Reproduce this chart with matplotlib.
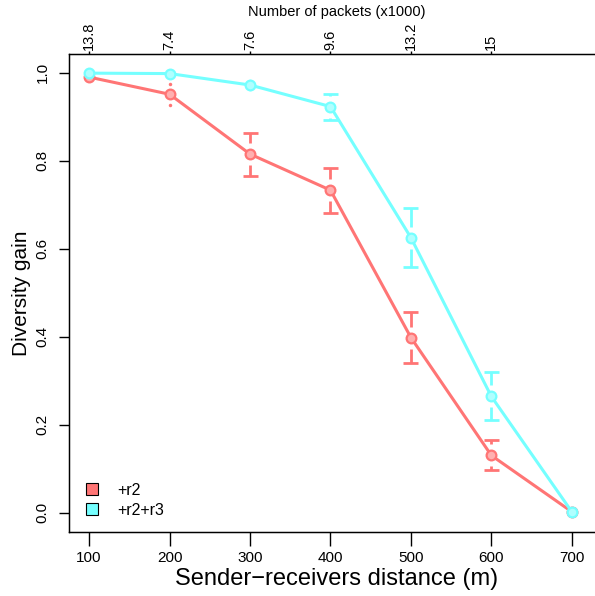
import numpy as np
import matplotlib
matplotlib.use("Agg")
import matplotlib.pyplot as plt

plt.rcParams['font.family'] = ['Liberation Sans', 'DejaVu Sans']

# data
distance = [100, 200, 300, 400, 500, 600, 700]
packets = ["13.8", "7.4", "7.6", "9.6", "13.2", "15"]

r2_mean = [0.990, 0.951, 0.815, 0.733, 0.398, 0.130, 0.002]
r2_low = [0.988, 0.927, 0.765, 0.681, 0.340, 0.096, 0.002]
r2_high = [0.993, 0.974, 0.862, 0.784, 0.455, 0.165, 0.002]

r23_mean = [0.999, 0.998, 0.972, 0.923, 0.625, 0.264, 0.002]
r23_low = [0.998, 0.996, 0.962, 0.892, 0.558, 0.210, 0.002]
r23_high = [1.000, 0.999, 0.981, 0.951, 0.692, 0.319, 0.002]

red = "#ff7575"
cyan = "#75ffff"

fig = plt.figure(figsize=(5.95, 5.96), dpi=100)
ax = fig.add_axes([69/595, 1 - 532/596, 535/595, (532 - 54)/596])
ax.set_xlim(75, 740)
ax.set_ylim(-0.044, 1.0425)


def draw_ci(x, mean, low, high, color):
    # gplots-style CI: bars with a gap around the point
    gap = 11.0   # pixels
    half = 7.5   # cap half width, pixels
    to_px = ax.transData
    to_data = ax.transData.inverted()
    for xi, m, lo, hi in zip(x, mean, low, high):
        px, pm = to_px.transform((xi, m))
        for end in (hi, lo):
            _, pe = to_px.transform((xi, end))
            d = pe - pm
            if abs(d) < 1.0:
                continue
            s = np.sign(d)
            if abs(d) > gap:
                (x0, y0) = to_data.transform((px, pm + s * gap))
                (x1, y1) = to_data.transform((px, pe))
                ax.plot([x0, x1], [y0, y1], color=color, lw=2.0,
                        solid_capstyle="butt", zorder=2)
                (xa, _) = to_data.transform((px - half, pe))
                (xb, _) = to_data.transform((px + half, pe))
                ax.plot([xa, xb], [y1, y1], color=color, lw=2.0,
                        solid_capstyle="butt", zorder=2)
            else:
                ax.plot([xi], [end], marker="o", ms=2.5, color=color,
                        mec="none", zorder=2)


ax.plot(distance, r2_mean, color=red, lw=2.2, marker="o", ms=7,
        mfc="#ffb0b0", mec=red, mew=1.6, zorder=3)
ax.plot(distance, r23_mean, color=cyan, lw=2.2, marker="o", ms=7,
        mfc="#b0ffff", mec=cyan, mew=1.6, zorder=3)
draw_ci(distance, r2_mean, r2_low, r2_high, red)
draw_ci(distance, r23_mean, r23_low, r23_high, cyan)

ax.set_xticks(distance)
ax.set_yticks([0.0, 0.2, 0.4, 0.6, 0.8, 1.0])
ax.set_yticklabels(["0.0", "0.2", "0.4", "0.6", "0.8", "1.0"], rotation=90,
                   va="center")
ax.tick_params(axis="x", direction="out", length=10, width=1, labelsize=11,
               pad=4)
ax.tick_params(axis="y", direction="out", length=7, width=1, labelsize=11,
               pad=7)
for sp in ax.spines.values():
    sp.set_linewidth(1.0)

ax.set_xlabel("Sender\u2212receivers distance (m)", fontsize=17, labelpad=2)
ax.set_ylabel("Diversity gain", fontsize=15, va="center")
ax.yaxis.set_label_coords(-0.088, 0.5)

top = ax.twiny()
top.set_xlim(ax.get_xlim())
top.set_xticks(distance[:-1])
top.set_xticklabels(packets, rotation=90, fontsize=10.5)
top.tick_params(axis="x", direction="out", length=2, width=1, pad=1)
top.set_xlabel("Number of packets (x1000)", fontsize=10.5, labelpad=4)

h1 = plt.Rectangle((0, 0), 1, 1, fc=red, ec="black", lw=0.8)
h2 = plt.Rectangle((0, 0), 1, 1, fc=cyan, ec="black", lw=0.8)
ax.legend([h1, h2], ["+r2", "+r2+r3"], loc="lower left", frameon=False,
          fontsize=11.5, handlelength=0.75, handleheight=0.75,
          handletextpad=1.2, labelspacing=0.3,
          bbox_to_anchor=(0.005, 0.0))

fig.savefig("out.png", dpi=100)
